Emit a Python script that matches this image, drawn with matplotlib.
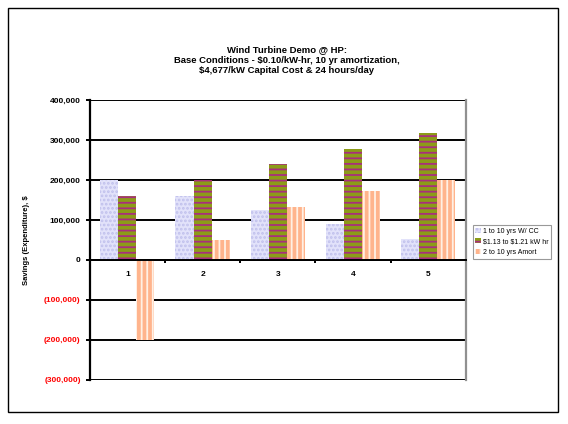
import numpy as np
import matplotlib
matplotlib.use("Agg")
import matplotlib.pyplot as plt
from matplotlib.patches import Rectangle
from matplotlib.ticker import FuncFormatter, MultipleLocator

plt.rcParams['font.family'] = ['Liberation Sans', 'DejaVu Sans']
plt.rcParams['hatch.linewidth'] = 1.3
plt.rcParams['text.parse_math'] = False

categories = ["1", "2", "3", "4", "5"]
series_names = ["1 to 10 yrs W/ CC", "$1.13 to $1.21 kW hr", "2 to 10 yrs Amort"]
s1 = [200000, 160000, 125000, 90000, 52000]
s2 = [160000, 200000, 240000, 278000, 318000]
s3 = [-200000, 51000, 132000, 173000, 200000]

title = ("Wind Turbine Demo @ HP:\n"
         "Base Conditions - $0.10/kW-hr, 10 yr amortization,\n"
         "$4,677/kW Capital Cost & 24 hours/day")

fig = plt.figure(figsize=(5.68, 4.24), dpi=100)
ax = fig.add_axes([0.158, 0.104, 0.662, 0.66])

x = np.arange(1, len(categories) + 1)
w = 0.24
styles = [
    dict(color="#e2e2fa", edgecolor="#c0c0ec", hatch="...."),
    dict(color="#8c9c18", edgecolor="#a8307c", hatch="---"),
    dict(color="#ffb48c", edgecolor="#fff0e4", hatch="|||"),
]
for i, (vals, name, st) in enumerate(zip([s1, s2, s3], series_names, styles)):
    ax.bar(x + (i - 1) * w, vals, w, label=name, linewidth=0, **st)

ax.set_ylim(-300000, 400000)
ax.set_xlim(0.5, 5.5)
ax.yaxis.set_major_locator(MultipleLocator(100000))
ax.grid(axis='y', color='black', linewidth=1.4)
ax.set_axisbelow(True)


def fmt(v, pos):
    if v < 0:
        return "({:,.0f})".format(-v)
    if v == 0:
        return "0"
    return "{:,.0f}".format(v)


ax.yaxis.set_major_formatter(FuncFormatter(fmt))
ax.tick_params(axis='y', labelsize=6, length=3, width=1.4)
for lab in ax.get_yticklabels():
    lab.set_fontweight('bold')
fig.canvas.draw()
for lab, v in zip(ax.get_yticklabels(), ax.get_yticks()):
    if v < 0:
        lab.set_color('red')

ax.spines['bottom'].set_position(('data', 0))
ax.spines['bottom'].set_linewidth(1.4)
ax.spines['left'].set_linewidth(1.6)
ax.spines['top'].set_visible(False)
ax.spines['right'].set_color('#909090')
ax.spines['right'].set_linewidth(1.6)
ax.set_xticks(x)
ax.set_xticklabels(categories, fontsize=6, fontweight='bold')
ax.set_xticks(x[:-1] + 0.5, minor=True)
ax.tick_params(axis='x', which='major', length=0, pad=8)
ax.tick_params(axis='x', which='minor', length=2, width=1.4)

ax.set_ylabel("Savings (Expenditure), $", fontsize=5.5, fontweight='bold', labelpad=10)

fig.text(0.505, 0.858, title, ha='center', va='center', fontsize=6.8,
         fontweight='bold', linespacing=1.25)

leg = fig.legend(loc='upper left', bbox_to_anchor=(0.826, 0.478), fontsize=5,
                 frameon=True, fancybox=False, edgecolor='#808080',
                 handlelength=0.8, handleheight=0.8, handletextpad=0.3,
                 borderpad=0.4, labelspacing=0.5)
leg.get_frame().set_linewidth(0.8)

fig.patches.append(Rectangle((0.014, 0.028), 0.968, 0.953, transform=fig.transFigure,
                             fill=False, edgecolor='black', linewidth=1.0))

fig.savefig("out.png", dpi=100)
